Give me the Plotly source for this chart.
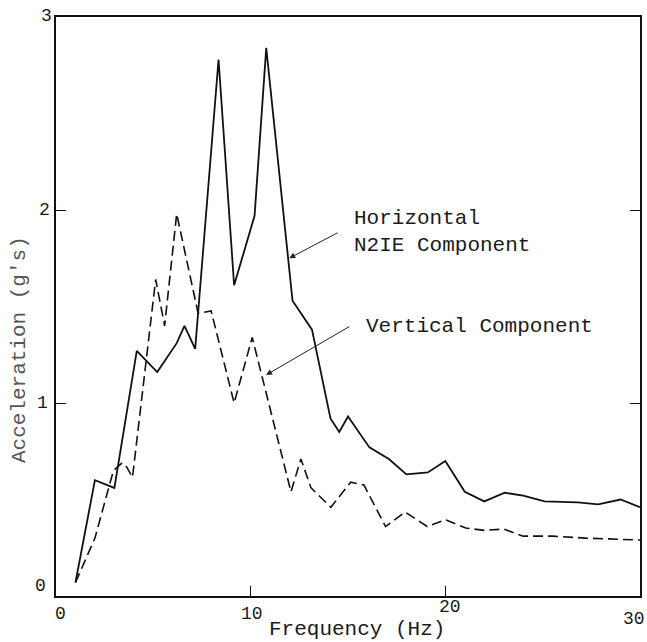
import plotly.graph_objects as go

# Horizontal N2IE component (solid)
h_freq = [1, 2, 3, 4.15, 5.2, 6.2, 6.6, 7.15, 8.35, 9.15, 10.2, 10.8, 12.15, 13.15,
          14.1, 14.55, 15.0, 16.1, 17.1, 18.0, 19.1, 20.0, 21.0, 22.0, 23.05, 24.0,
          25.1, 26.8, 27.85, 29.0, 30.0]
h_acc = [0.07, 0.60, 0.56, 1.27, 1.16, 1.31, 1.40, 1.28, 2.78, 1.61, 1.97, 2.84, 1.53, 1.38,
         0.92, 0.85, 0.93, 0.77, 0.71, 0.63, 0.64, 0.70, 0.54, 0.49, 0.535, 0.52,
         0.49, 0.485, 0.475, 0.50, 0.46]

# Vertical component (dashed)
v_freq = [1, 2, 2.95, 3.4, 3.62, 3.93, 5.12, 5.58, 6.2, 7.3, 7.97, 9.15, 10.08, 12.07,
          12.58, 13.1, 14.12, 15.14, 15.82, 16.93, 17.93, 19.07, 20.0, 21.05, 22.0,
          23.0, 24.0, 25.5, 27.2, 30.0]
v_acc = [0.07, 0.30, 0.65, 0.69, 0.67, 0.615, 1.64, 1.40, 1.98, 1.465, 1.477, 1.00, 1.34, 0.54,
         0.71, 0.56, 0.46, 0.59, 0.575, 0.36, 0.435, 0.36, 0.395, 0.352, 0.34,
         0.347, 0.31, 0.31, 0.30, 0.29]

x_ticks = [0, 10, 20, 30]
y_ticks = [0, 1, 2, 3]

x_title = "Frequency (Hz)"
y_title = "Acceleration (g's)"

label_font = dict(family="Liberation Mono, Courier New, monospace", size=21, color="#1a1a1a")
ytitle_font = dict(family="Liberation Mono, Courier New, monospace", size=21, color="#555555")
tick_font = dict(family="Liberation Mono, Courier New, monospace", size=18, color="#1a1a1a")

fig = go.Figure()
fig.add_trace(go.Scatter(x=h_freq, y=h_acc, mode="lines",
                         line=dict(color="#111111", width=1.8), showlegend=False))
fig.add_trace(go.Scatter(x=v_freq, y=v_acc, mode="lines",
                         line=dict(color="#111111", width=1.6, dash="10px,5px"),
                         showlegend=False))

# Tick labels as annotations (scan-like placement)
x_shift = {0: (4, 0), 10: (1, 0), 20: (5, 7), 30: (-6, -5)}
for t in x_ticks:
    dx, dy = x_shift[t]
    fig.add_annotation(x=t, y=0, xref="x", yref="paper", text=str(t), showarrow=False,
                       yanchor="top", xanchor="center", xshift=dx, yshift=-6 + dy,
                       font=tick_font)
y_shift = {0: (-4, 10), 1: (-2, 0), 2: (0, 0), 3: (2, 1)}
for t in y_ticks:
    dx, dy = y_shift[t]
    fig.add_annotation(x=0, y=t, xref="paper", yref="y", text=str(t), showarrow=False,
                       xanchor="right", yanchor="middle", xshift=-4 + dx, yshift=dy,
                       font=tick_font)

# Text labels
fig.add_annotation(x=15.2, y=1.886, xref="x", yref="y", text="Horizontal<br>N2IE Component",
                   showarrow=False, xanchor="left", yanchor="middle", align="left",
                   font=label_font)
fig.add_annotation(x=15.8, y=1.394, xref="x", yref="y", text="Vertical Component",
                   showarrow=False, xanchor="left", yanchor="middle", font=label_font)

# Arrows
fig.add_annotation(x=11.98, y=1.75, ax=14.54, ay=1.886, xref="x", yref="y",
                   axref="x", ayref="y", text="", showarrow=True, arrowhead=2,
                   arrowsize=1.2, arrowwidth=1, arrowcolor="#222222")
fig.add_annotation(x=10.79, y=1.145, ax=15.14, ay=1.40, xref="x", yref="y",
                   axref="x", ayref="y", text="", showarrow=True, arrowhead=2,
                   arrowsize=1.2, arrowwidth=1, arrowcolor="#222222")

# Axis titles
fig.add_annotation(x=0.515, y=-0.057, xref="paper", yref="paper", text=x_title,
                   showarrow=False, xanchor="center", yanchor="middle", font=label_font)
fig.add_annotation(x=-0.0614, y=0.425, xref="paper", yref="paper", text=y_title,
                   showarrow=False, xanchor="center", yanchor="middle", textangle=-90,
                   font=ytitle_font)

fig.update_layout(
    width=647, height=642,
    margin=dict(l=56, r=5, t=17, b=46),
    paper_bgcolor="white", plot_bgcolor="white",
    font=dict(family="Liberation Mono, Courier New, monospace", color="#1a1a1a"),
)
fig.update_xaxes(range=[0, 30], tickvals=x_ticks, showticklabels=False,
                 ticks="inside", ticklen=10, tickwidth=1.2, tickcolor="#111",
                 showline=True, linecolor="#111", linewidth=1.5, mirror=True,
                 showgrid=False, zeroline=False)
fig.update_yaxes(range=[0, 3], tickvals=y_ticks, showticklabels=False,
                 ticks="inside", ticklen=10, tickwidth=1.2, tickcolor="#111",
                 showline=True, linecolor="#111", linewidth=1.5, mirror="ticks",
                 showgrid=False, zeroline=False)

fig.write_html("out.html")
